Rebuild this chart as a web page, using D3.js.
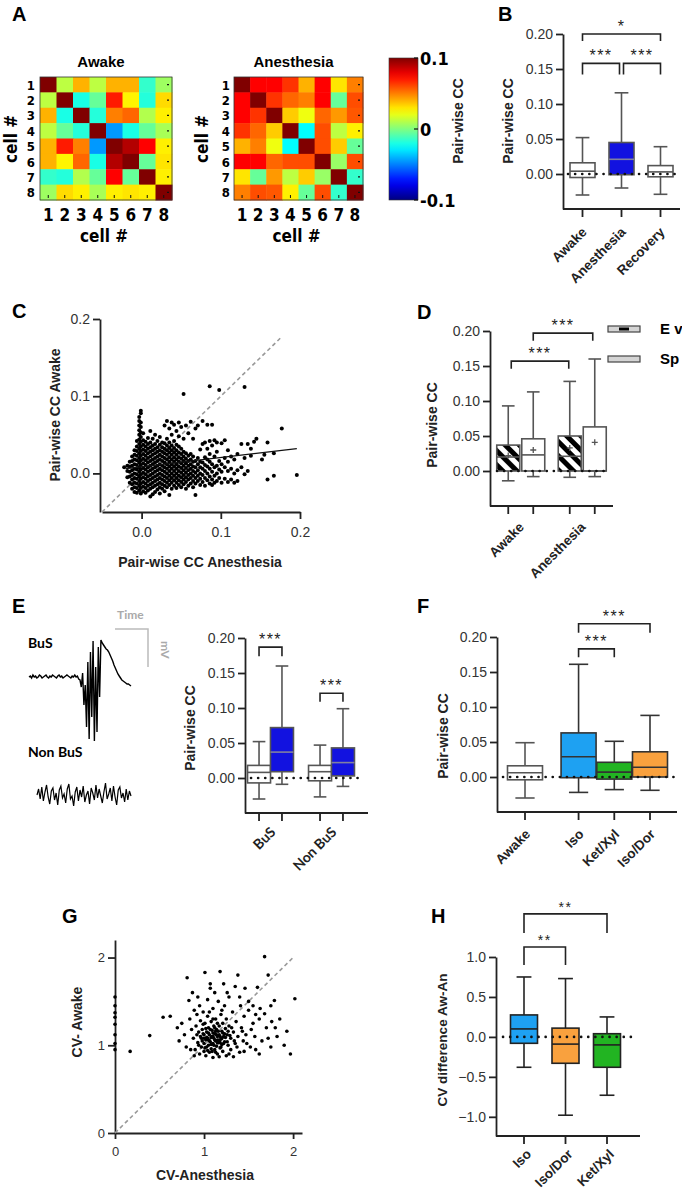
<!DOCTYPE html>
<html>
<head>
<meta charset="utf-8">
<script src="https://cdn.jsdelivr.net/npm/d3@7"></script>
<style>
body { margin: 0; background: #fff; }
text { font-family: "Liberation Sans", Arial, sans-serif; }
</style>
</head>
<body>
<div id="fig"></div>
<script>
// ---------- A: pair-wise CC matrices (8 cells)
var cellIds = [1, 2, 3, 4, 5, 6, 7, 8];
var awakeCC = [
	[0.1, 0.012, 0.04, 0.012, 0.04, 0.04, -0.015, 0.006],
	[0.012, 0.1, -0.02, -0.005, 0.07, 0.027, -0.018, 0.032],
	[0.04, -0.02, 0.1, -0.018, 0.05, 0.055, 0.01, 0.028],
	[0.012, -0.005, -0.018, 0.1, -0.045, -0.02, -0.005, 0.008],
	[0.04, 0.07, 0.05, -0.045, 0.1, 0.09, 0.075, 0.028],
	[0.04, 0.027, 0.055, -0.02, 0.09, 0.1, -0.005, 0.03],
	[-0.015, -0.018, 0.01, -0.005, 0.075, -0.005, 0.1, 0.028],
	[0.006, 0.032, 0.028, 0.008, 0.028, 0.03, 0.028, 0.1]
];
var anesCC = [
	[0.1, 0.075, 0.075, 0.065, 0.04, 0.075, 0.03, 0.05],
	[0.075, 0.1, 0.065, 0.055, 0.05, 0.075, -0.005, 0.06],
	[0.075, 0.065, 0.1, 0.035, 0.022, 0.055, 0.045, 0.058],
	[0.065, 0.055, 0.035, 0.1, -0.025, 0.06, 0.012, 0.028],
	[0.04, 0.05, 0.022, -0.025, 0.1, 0.06, 0.035, -0.005],
	[0.075, 0.075, 0.055, 0.06, 0.06, 0.1, 0.005, 0.06],
	[0.03, -0.005, 0.045, 0.012, 0.035, 0.005, 0.1, -0.015],
	[0.05, 0.06, 0.058, 0.028, -0.005, 0.06, -0.015, 0.1]
];
var cbarTicks = [-0.1, 0, 0.1];
var cbarLabels = ["-0.1", "0", "0.1"];

// ---------- B: box stats [min, q1, median, q3, max]
var bGroups = ["Awake", "Anesthesia", "Recovery"];
var bStats = [
	[-0.03, -0.005, 0.004, 0.016, 0.052],
	[-0.02, -0.001, 0.021, 0.045, 0.116],
	[-0.029, -0.004, 0.003, 0.012, 0.039]
];
var bFill = ["#ffffff", "#1212e0", "#ffffff"];
var ccTicks = [0, 0.05, 0.1, 0.15, 0.2];

// ---------- C: scatter, columns of [x, [y...]]
var cScatter = [
	[-0.022, [0.008]],
	[-0.018, [-0.005, 0.003, 0.01]],
	[-0.015, [-0.012, -0.004, 0.002, 0.009, 0.015]],
	[-0.012, [-0.02, -0.014, -0.008, -0.002, 0.004, 0.01, 0.016, 0.022]],
	[-0.009, [-0.024, -0.018, -0.012, -0.006, 0.0, 0.006, 0.012, 0.018, 0.024, 0.03]],
	[-0.006, [-0.025, -0.019, -0.013, -0.007, -0.001, 0.005, 0.011, 0.017, 0.023, 0.029, 0.035, 0.042]],
	[-0.003, [-0.022, -0.016, -0.01, -0.004, 0.002, 0.008, 0.014, 0.02, 0.026, 0.032, 0.038, 0.044, 0.05, 0.056, 0.062, 0.068, 0.073]],
	[-0.001, [-0.026, -0.019, -0.013, -0.007, -0.001, 0.005, 0.011, 0.017, 0.023, 0.029, 0.035, 0.041, 0.047, 0.053, 0.06, 0.066, 0.078, 0.081]],
	[0.002, [-0.023, -0.017, -0.011, -0.005, 0.001, 0.007, 0.013, 0.019, 0.025, 0.031, 0.037, 0.043, 0.052]],
	[0.005, [-0.025, -0.019, -0.013, -0.007, -0.001, 0.005, 0.011, 0.017, 0.023, 0.029, 0.035, 0.041]],
	[0.008, [-0.022, -0.016, -0.01, -0.004, 0.002, 0.008, 0.014, 0.02, 0.026, 0.032, 0.038, 0.046]],
	[0.011, [-0.03, -0.02, -0.014, -0.008, -0.002, 0.004, 0.01, 0.016, 0.022, 0.028, 0.034, 0.04, 0.055]],
	[0.014, [-0.027, -0.018, -0.012, -0.006, 0.0, 0.006, 0.012, 0.018, 0.024, 0.03, 0.036, 0.045]],
	[0.017, [-0.024, -0.016, -0.01, -0.004, 0.002, 0.008, 0.014, 0.02, 0.026, 0.032, 0.038, 0.05]],
	[0.02, [-0.021, -0.014, -0.008, -0.002, 0.004, 0.01, 0.016, 0.022, 0.028, 0.034, 0.042]],
	[0.023, [-0.026, -0.018, -0.012, -0.006, 0.0, 0.006, 0.012, 0.018, 0.024, 0.03, 0.037, 0.047]],
	[0.026, [-0.02, -0.014, -0.008, -0.002, 0.004, 0.01, 0.016, 0.022, 0.028, 0.034, 0.04]],
	[0.029, [-0.023, -0.016, -0.01, -0.004, 0.002, 0.008, 0.014, 0.02, 0.026, 0.032, 0.039, 0.062]],
	[0.032, [-0.018, -0.012, -0.006, 0.0, 0.006, 0.012, 0.018, 0.024, 0.03, 0.036, 0.045, 0.068]],
	[0.035, [-0.028, -0.015, -0.009, -0.003, 0.003, 0.009, 0.015, 0.021, 0.027, 0.033, 0.04, 0.058]],
	[0.038, [-0.02, -0.012, -0.006, 0.0, 0.006, 0.012, 0.018, 0.024, 0.03, 0.036, 0.05, 0.066]],
	[0.041, [-0.016, -0.009, -0.003, 0.003, 0.009, 0.015, 0.021, 0.027, 0.033, 0.042, 0.063]],
	[0.044, [-0.019, -0.012, -0.006, 0.0, 0.006, 0.012, 0.018, 0.024, 0.03, 0.037, 0.055]],
	[0.047, [-0.015, -0.009, -0.003, 0.003, 0.009, 0.015, 0.021, 0.027, 0.035, 0.048, 0.066]],
	[0.05, [-0.018, -0.011, -0.005, 0.001, 0.007, 0.013, 0.019, 0.025, 0.032, 0.06]],
	[0.053, [-0.014, -0.008, -0.002, 0.004, 0.01, 0.016, 0.022, 0.028, 0.045, 0.103]],
	[0.056, [-0.02, -0.011, -0.005, 0.001, 0.007, 0.013, 0.019, 0.026, 0.062]],
	[0.059, [-0.016, -0.008, -0.002, 0.004, 0.01, 0.016, 0.023, 0.052]],
	[0.062, [-0.013, -0.006, 0.0, 0.006, 0.012, 0.018, 0.025, 0.067]],
	[0.065, [-0.018, -0.01, -0.003, 0.003, 0.009, 0.015, 0.022, 0.045]],
	[0.068, [-0.028, -0.013, -0.006, 0.001, 0.008, 0.016, 0.058]],
	[0.071, [-0.01, -0.003, 0.004, 0.012, 0.02, 0.062]],
	[0.074, [-0.015, -0.007, 0.0, 0.008, 0.015, 0.031]],
	[0.077, [-0.011, -0.002, 0.006, 0.014, 0.038, 0.068]],
	[0.08, [-0.016, -0.006, 0.003, 0.011, 0.021, 0.04]],
	[0.083, [-0.009, 0.0, 0.009, 0.018, 0.032, 0.063]],
	[0.086, [-0.013, -0.004, 0.006, 0.015, 0.025, 0.042, 0.113]],
	[0.089, [-0.015, -0.008, 0.002, 0.012, 0.036, 0.063]],
	[0.092, [-0.012, -0.003, 0.008, 0.022, 0.043]],
	[0.095, [-0.01, 0.0, 0.01, 0.028, 0.04]],
	[0.098, [-0.006, 0.005, 0.016, 0.108]],
	[0.101, [-0.012, 0.002, 0.012, 0.039]],
	[0.105, [-0.007, 0.008, 0.02, 0.043]],
	[0.109, [-0.011, 0.003, 0.015, 0.03]],
	[0.113, [-0.008, 0.006, 0.022]],
	[0.117, [-0.012, 0.0, 0.018]],
	[0.121, [-0.01, 0.004, 0.025]],
	[0.126, [0.008, 0.038]],
	[0.13, [-0.001, 0.02, 0.112]],
	[0.134, [0.003, 0.038]],
	[0.138, [0.023, 0.032]],
	[0.142, [0.041]],
	[0.145, [0.045]],
	[0.152, [0.018]],
	[0.155, [0.024]],
	[0.159, [-0.008, 0.04]],
	[0.167, [-0.003, 0.026]],
	[0.177, [0.058]],
	[0.196, [-0.002]]
];
var cTicks = [0, 0.1, 0.2];
var cFit = [[-0.02, 0.0062], [0.196, 0.032]];
var cUnity = [[-0.05, -0.05], [0.175, 0.175]];

// ---------- D: evoked (hatched) vs spontaneous
var dGroups = ["Awake", "Anesthesia"];
var dSeries = ["Ev", "Sp"];
var dEv = [[-0.014, 0, 0.02, 0.037, 0.093], [-0.009, 0, 0.021, 0.05, 0.128]];
var dSp = [[-0.008, 0, 0.023, 0.046, 0.113], [-0.008, 0, 0, 0.063, 0.16]];
var dEvMean = [0.022, 0.033];
var dSpMean = [0.03, 0.041];

// ---------- E: example traces + box stats
var busTrace = [0, 1, -1, 2, 0, 1, -1, 0, 2, 1, -1, 0, 1, 2, 0, -1, 1, 0, 2, 1, 0, -1, 1, 2, 0, 1, -1, 0, 1, 2, 1, 0, -1, 1, 0, 2, 0, 1, -2,
	-3, -10, 4, -28, -8, -50, 15, -62, 25, -40, 36, -64, 10, -55, 30, -20, 37, 34, 32, 30, 28, 27,
	25, 22, 19, 16, 12, 9, 6, 3, 1, -1, -3, -4, -5, -6, -7, -7, -8, -9];
var nonBusTrace = [0, 6, -4, 8, -6, 3, 10, -2, -9, 4, 7, -5, 2, -10, 5, 9, -3, 1, -8, 6, 11, -4, -1, -11, 3, 8, -6, 5, -2, 9,
	-7, 0, 4, -9, 7, 2, -5, 10, -3, 6, -1, -8, 3, 12, -4, 1, 7, -6, 9, -2, -10, 5, 8, -3, 2, -7, 6, -5, 4, -1];
var eGroups = ["BuS", "Non BuS"];
var eAwake = [[-0.03, -0.007, 0.008, 0.018, 0.052], [-0.027, -0.004, 0.009, 0.018, 0.047]];
var eAnes = [[-0.009, 0.009, 0.037, 0.072, 0.16], [-0.012, 0.003, 0.022, 0.043, 0.099]];

// ---------- F: anesthetics
var fGroups = ["Awake", "Iso", "Ket/Xyl", "Iso/Dor"];
var fStats = [
	[-0.03, -0.004, 0.006, 0.016, 0.049],
	[-0.022, -0.001, 0.029, 0.063, 0.161],
	[-0.018, -0.003, 0.007, 0.021, 0.051],
	[-0.019, 0.0, 0.014, 0.036, 0.088]
];
var fFill = ["#ffffff", "#1ea1f2", "#22b422", "#f9a13e"];

// ---------- G: CV scatter
var gScatter = [
	[0, 1.55], [0, 1.45], [0, 1.37], [0, 1.32], [0, 1.24], [0, 1.12], [0, 1.02], [0, 0.95],
	[0.17, 0.93], [0.39, 1.11], [0.54, 1.32], [0.62, 1.33], [0.7, 1.2], [0.72, 1.05], [0.75, 1.25], [0.78, 1.12],
	[0.8, 0.98], [0.81, 1.77], [0.83, 1.51], [0.87, 1.6], [0.84, 1.3], [0.86, 1.18], [0.88, 1.08], [0.89, 1.4],
	[0.9, 0.95], [0.91, 1.22], [0.92, 1.35], [0.93, 1.03], [0.94, 1.15], [0.95, 0.9], [0.95, 1.45], [0.96, 1.28],
	[0.97, 1.08], [0.97, 0.98], [0.98, 1.18], [0.99, 1.38], [1.0, 1.02], [1.0, 1.12], [1.0, 0.93], [1.01, 1.83],
	[1.01, 1.25], [1.02, 1.06], [1.02, 0.88], [1.03, 1.15], [1.03, 0.98], [1.04, 1.33], [1.04, 1.08], [1.05, 1.2],
	[1.05, 1.0], [1.06, 0.92], [1.06, 1.12], [1.07, 1.7], [1.07, 1.65], [1.07, 1.04], [1.08, 1.27], [1.08, 0.96],
	[1.09, 1.1], [1.09, 1.17], [1.1, 1.02], [1.1, 0.86], [1.1, 1.42], [1.11, 1.08], [1.11, 1.22], [1.12, 0.95],
	[1.12, 1.13], [1.13, 1.05], [1.13, 1.3], [1.14, 0.99], [1.14, 1.18], [1.15, 1.1], [1.15, 0.9], [1.16, 1.5],
	[1.16, 1.03], [1.17, 1.22], [1.17, 1.12], [1.18, 1.84], [1.18, 0.97], [1.19, 1.07], [1.19, 1.35], [1.2, 1.16],
	[1.2, 1.01], [1.21, 1.25], [1.21, 0.93], [1.22, 1.1], [1.23, 1.45], [1.23, 1.04], [1.24, 1.19], [1.25, 0.88],
	[1.25, 1.3], [1.26, 1.12], [1.27, 1.0], [1.28, 1.55], [1.28, 1.22], [1.3, 1.08], [1.3, 0.95], [1.32, 1.38],
	[1.33, 1.15], [1.35, 1.67], [1.35, 1.02], [1.36, 1.27], [1.38, 1.1], [1.4, 0.92], [1.41, 1.45], [1.42, 1.2],
	[1.44, 1.05], [1.45, 1.33], [1.47, 1.12], [1.5, 1.4], [1.52, 0.98], [1.55, 1.25], [1.57, 1.1], [1.6, 1.66],
	[1.62, 1.3], [1.65, 1.05], [1.68, 2.01], [1.7, 1.2], [1.72, 1.8], [1.75, 0.98], [1.76, 1.27], [1.79, 1.51],
	[1.82, 1.1], [1.93, 1.16], [1.97, 0.9], [2.02, 1.53],
	[0.98, 1.05], [0.99, 1.13], [1.01, 0.97], [1.02, 1.19], [1.03, 1.09], [1.04, 0.94], [1.05, 1.14], [1.06, 1.05],
	[1.07, 1.18], [1.08, 1.09], [1.08, 1.01], [1.09, 0.93], [1.1, 1.14], [1.11, 1.0], [1.12, 1.06], [1.12, 1.2],
	[1.13, 0.92], [1.14, 1.12], [1.15, 1.03], [1.16, 1.16], [1.17, 1.06], [1.18, 1.1], [1.19, 0.98], [1.2, 1.08],
	[1.21, 1.14], [1.22, 1.02], [1.24, 1.09], [1.26, 1.04], [1.27, 1.16], [1.29, 1.11], [1.0, 1.08], [1.05, 1.06],
	[1.1, 1.1], [1.15, 1.06], [1.13, 1.16], [0.96, 1.1], [1.18, 1.03], [1.23, 1.13], [0.92, 1.12], [0.94, 1.0],
	[1.31, 1.2], [1.34, 1.05], [1.37, 0.98], [1.43, 1.16], [1.48, 1.02], [1.53, 1.18], [1.58, 0.95], [1.1, 1.3],
	[1.06, 1.38], [1.15, 1.25], [0.99, 1.24], [1.2, 1.4], [1.26, 1.6], [1.12, 1.6], [0.93, 1.55], [1.04, 1.52],
	[1.22, 1.7], [1.4, 1.55], [1.46, 1.65], [1.38, 1.8], [1.5, 1.5], [1.55, 1.45], [1.63, 1.42], [1.58, 1.35],
	[1.68, 1.36], [1.75, 1.45], [1.85, 1.3], [1.9, 1.0], [0.85, 0.95], [0.89, 0.88], [1.17, 0.87], [1.28, 0.9],
	[1.33, 0.87], [1.45, 0.93], [1.62, 0.9], [1.72, 1.08], [1.8, 1.2]
];
var gTicks = [0, 1, 2];
var gUnity = [[0, 0], [2, 2]];

// ---------- H: CV difference
var hGroups = ["Iso", "Iso/Dor", "Ket/Xyl"];
var hStats = [
	[-0.38, -0.08, 0.1, 0.275, 0.75],
	[-0.98, -0.33, -0.09, 0.11, 0.73],
	[-0.73, -0.38, -0.1, 0.04, 0.25]
];
var hFill = ["#1ea1f2", "#f9a13e", "#22b422"];
var hTicks = [-1, -0.5, 0, 0.5, 1];

drawfigure();

function drawfigure() {
	var svg = d3.select("#fig").append("svg")
		.attr("width", 682)
		.attr("height", 1191);

	var narrow = '"Liberation Sans Narrow", "DejaVu Sans Condensed", "Arial Narrow", sans-serif';

	// jet colour map
	function jet(v) {
		var t = (v + 0.1) / 0.2;
		var c = function (x) { return Math.max(0, Math.min(1, x)); };
		var r = c(1.5 - Math.abs(4 * t - 3)), g = c(1.5 - Math.abs(4 * t - 2)), b = c(1.5 - Math.abs(4 * t - 1));
		return d3.rgb(r * 255, g * 255, b * 255).toString();
	}

	function letter(t, x, y) {
		svg.append("text").attr("x", x).attr("y", y)
			.style("font-size", "20px").style("font-weight", "bold")
			.text(t);
	}

	function yLabel(txt, x, yc, size) {
		svg.append("text")
			.attr("transform", "translate(" + x + "," + yc + ") rotate(-90)")
			.attr("text-anchor", "middle")
			.style("font-size", (size || 14) + "px").style("font-weight", "bold").style("fill", "#222")
			.text(txt);
	}

	function styleAxis(g, fs) {
		g.select(".domain").attr("stroke", "#222").attr("stroke-width", 1.8);
		g.selectAll(".tick line").attr("stroke", "#222").attr("stroke-width", 1.8);
		g.selectAll(".tick text").style("font-size", (fs || 14) + "px").attr("fill", "#333")
			.style("font-family", '"Liberation Sans", Arial, sans-serif');
	}

	function leftAxis(x0, y, ticks, fmt, fs) {
		var g = svg.append("g").attr("transform", "translate(" + x0 + ",0)")
			.call(d3.axisLeft(y).tickValues(ticks).tickFormat(fmt).tickSize(7).tickSizeOuter(0).tickPadding(3));
		styleAxis(g, fs);
		return g;
	}

	function bottomLine(x0, x1, y0, xs) {
		svg.append("line").attr("x1", x0).attr("x2", x1).attr("y1", y0).attr("y2", y0)
			.attr("stroke", "#222").attr("stroke-width", 1.8);
		xs.forEach(function (x) {
			svg.append("line").attr("x1", x).attr("x2", x).attr("y1", y0).attr("y2", y0 + 8)
				.attr("stroke", "#222").attr("stroke-width", 1.8);
		});
	}

	function rotLabels(items, y0, size, family, weight) {
		items.forEach(function (d) {
			svg.append("text")
				.attr("transform", "translate(" + d.x + "," + y0 + ") rotate(-45)")
				.attr("text-anchor", "end")
				.style("font-size", size + "px").style("font-weight", weight || "bold")
				.style("font-family", family || '"Liberation Sans", Arial, sans-serif')
				.style("fill", "#222")
				.text(d.t);
		});
	}

	function box(y, cx, w, s, fill, stroke, med) {
		var g = svg.append("g").attr("stroke", stroke).attr("stroke-width", 1.6);
		var cap = w * 0.55;
		g.append("line").attr("x1", cx).attr("x2", cx).attr("y1", y(s[4])).attr("y2", y(s[3]));
		g.append("line").attr("x1", cx).attr("x2", cx).attr("y1", y(s[1])).attr("y2", y(s[0]));
		g.append("line").attr("x1", cx - cap / 2).attr("x2", cx + cap / 2).attr("y1", y(s[4])).attr("y2", y(s[4]));
		g.append("line").attr("x1", cx - cap / 2).attr("x2", cx + cap / 2).attr("y1", y(s[0])).attr("y2", y(s[0]));
		g.append("rect").attr("x", cx - w / 2).attr("y", y(s[3])).attr("width", w)
			.attr("height", y(s[1]) - y(s[3])).attr("fill", fill);
		g.append("line").attr("x1", cx - w / 2).attr("x2", cx + w / 2).attr("y1", y(s[2])).attr("y2", y(s[2]))
			.attr("stroke", med || stroke);
		return g;
	}

	function zeroDots(x0, x1, yy) {
		svg.append("line").attr("x1", x0).attr("x2", x1).attr("y1", yy).attr("y2", yy)
			.attr("stroke", "#111").attr("stroke-width", 2.6)
			.attr("stroke-linecap", "round").attr("stroke-dasharray", "0.1,7");
	}

	function bracket(x1, x2, yTop, yLeg, label, fs) {
		svg.append("path").attr("d", "M" + x1 + "," + yLeg + "V" + yTop + "H" + x2 + "V" + yLeg)
			.attr("fill", "none").attr("stroke", "#222").attr("stroke-width", 1.6);
		svg.append("text").attr("x", (x1 + x2) / 2).attr("y", yTop - 2)
			.attr("text-anchor", "middle").style("font-size", (fs || 16) + "px")
			.style("letter-spacing", "1.5px").style("fill", "#222")
			.text(label);
	}

	// ================= A
	letter("A", 12, 21);
	function heatmap(mat, x0, x1, title, rowLabelX, ylabX) {
		var xb = d3.scaleBand().domain(cellIds).range([x0, x1]);
		var yb = d3.scaleBand().domain(cellIds).range([77, 200]);
		var g = svg.append("g");
		mat.forEach(function (row, i) {
			g.selectAll(null).data(row).join("rect")
				.attr("x", function (d, j) { return xb(cellIds[j]); })
				.attr("y", yb(cellIds[i]))
				.attr("width", xb.bandwidth() + 0.5)
				.attr("height", yb.bandwidth() + 0.5)
				.attr("fill", function (d) { return jet(d); });
		});
		g.append("rect").attr("x", x0).attr("y", 77).attr("width", x1 - x0).attr("height", 123)
			.attr("fill", "none").attr("stroke", "#333").attr("stroke-width", 0.8);
		// small tick marks of the matlab axes
		cellIds.forEach(function (c) {
			g.append("line").attr("x1", x1 - 5).attr("x2", x1 - 3)
				.attr("y1", yb(c) + yb.bandwidth() / 2).attr("y2", yb(c) + yb.bandwidth() / 2)
				.attr("stroke", "#111").attr("stroke-width", 1.2);
			g.append("line").attr("x1", xb(c) + xb.bandwidth() / 2).attr("x2", xb(c) + xb.bandwidth() / 2)
				.attr("y1", 198).attr("y2", 195).attr("stroke", "#111").attr("stroke-width", 1);
		});
		svg.append("text").attr("x", (x0 + x1) / 2 - 5).attr("y", 67).attr("text-anchor", "middle")
			.style("font-size", "15px").style("font-weight", "bold").text(title);
		svg.selectAll(null).data(cellIds).join("text")
			.attr("x", rowLabelX).attr("y", function (d) { return yb(d) + yb.bandwidth() / 2 + 5; })
			.attr("text-anchor", "end")
			.style("font-family", narrow).style("font-size", "13px").style("font-weight", "bold")
			.text(function (d) { return d; });
		svg.selectAll(null).data(cellIds).join("text")
			.attr("x", function (d) { return xb(d) + xb.bandwidth() / 2; }).attr("y", 221)
			.attr("text-anchor", "middle")
			.style("font-family", narrow).style("font-size", "17px").style("font-weight", "bold")
			.text(function (d) { return d; });
		svg.append("text").attr("x", (x0 + x1) / 2 - 2).attr("y", 242).attr("text-anchor", "middle")
			.style("font-family", narrow).style("font-size", "17px").style("font-weight", "bold").text("cell #");
		svg.append("text").attr("transform", "translate(" + ylabX + ",139) rotate(-90)").attr("text-anchor", "middle")
			.style("font-family", narrow).style("font-size", "17px").style("font-weight", "bold").text("cell #");
	}
	heatmap(awakeCC, 40, 172, "Awake", 35, 17);
	heatmap(anesCC, 234, 363, "Anesthesia", 230, 208);

	// colour bar
	var cbY = d3.scaleLinear().domain([-0.1, 0.1]).range([200, 58]);
	var grad = svg.append("defs").append("linearGradient").attr("id", "jetgrad")
		.attr("x1", 0).attr("x2", 0).attr("y1", 1).attr("y2", 0);
	d3.range(0, 1.0001, 0.05).forEach(function (t) {
		grad.append("stop").attr("offset", t).attr("stop-color", jet(-0.1 + 0.2 * t));
	});
	svg.append("rect").attr("x", 389).attr("y", cbY(0.1)).attr("width", 29).attr("height", cbY(-0.1) - cbY(0.1))
		.attr("fill", "url(#jetgrad)").attr("stroke", "#333").attr("stroke-width", 0.6);
	cbarTicks.forEach(function (v, i) {
		svg.append("line").attr("x1", 414).attr("x2", 418).attr("y1", cbY(v)).attr("y2", cbY(v))
			.attr("stroke", "#111").attr("stroke-width", 1.2);
		svg.append("text").attr("x", 420).attr("y", cbY(v) + 6.5)
			.style("font-family", narrow).style("font-size", "18px").style("font-weight", "bold")
			.text(cbarLabels[i]);
	});
	yLabel("Pair-wise CC", 463, 121);

	// ================= B
	letter("B", 498, 21);
	var yB = d3.scaleLinear().domain([-0.05, 0.2]).range([209, 34]);
	var xB = d3.scalePoint().domain(bGroups).range([563, 680]).padding(0.5);
	leftAxis(563, yB, ccTicks, d3.format(".2f"));
	bottomLine(563, 680, 209, bGroups.map(function (d) { return xB(d); }));
	bGroups.forEach(function (d, i) {
		box(yB, xB(d), 25, bStats[i], bFill[i], "#555", i === 1 ? "#8080a0" : "#555");
	});
	zeroDots(568, 680, yB(0));
	bracket(xB("Awake"), xB("Anesthesia") - 2, yB(0.158), yB(0.142), "***");
	bracket(xB("Anesthesia") + 2, xB("Recovery"), yB(0.158), yB(0.142), "***");
	bracket(xB("Awake"), xB("Recovery"), yB(0.2), yB(0.19), "*");
	yLabel("Pair-wise CC", 513, 121);
	rotLabels(bGroups.map(function (d) { return { x: xB(d) + 5, t: d }; }), 233, 13.5);

	// ================= C
	letter("C", 12, 318);
	var xC = d3.scaleLinear().domain([-0.05, 0.2]).range([102, 300]);
	var yC = d3.scaleLinear().domain([-0.05, 0.2]).range([512, 319]);
	var gcx = svg.append("g").attr("transform", "translate(0,512)")
		.call(d3.axisBottom(xC).tickValues(cTicks).tickFormat(d3.format(".1f")).tickSize(7).tickSizeOuter(0).tickPadding(8));
	styleAxis(gcx);
	leftAxis(100, yC, cTicks, d3.format(".1f"));
	var line = d3.line().x(function (d) { return xC(d[0]); }).y(function (d) { return yC(d[1]); });
	svg.append("path").attr("d", line(cUnity)).attr("stroke", "#999").attr("stroke-width", 1.6)
		.attr("stroke-dasharray", "4,3").attr("fill", "none");
	var cPts = cScatter.flatMap(function (c) { return c[1].map(function (y) { return [c[0], y]; }); });
	svg.append("g").selectAll("circle").data(cPts).join("circle")
		.attr("cx", function (d) { return xC(d[0]); })
		.attr("cy", function (d) { return yC(d[1]); })
		.attr("r", 2.0).attr("fill", "#000");
	svg.append("path").attr("d", line(cFit)).attr("stroke", "#111").attr("stroke-width", 1.3).attr("fill", "none");
	yLabel("Pair-wise CC Awake", 60, 415);
	svg.append("text").attr("x", 200).attr("y", 567).attr("text-anchor", "middle")
		.style("font-size", "14px").style("font-weight", "bold").style("fill", "#222")
		.text("Pair-wise CC Anesthesia");

	// ================= D
	letter("D", 417, 319);
	var yD = d3.scaleLinear().domain([-0.05, 0.2]).range([506, 331]);
	var xD = d3.scaleBand().domain(dGroups).range([490, 613]);
	var xDs = d3.scaleBand().domain(dSeries).range([0, xD.bandwidth()]).paddingOuter(0.23);
	var pat = svg.select("defs").append("pattern").attr("id", "hatch")
		.attr("patternUnits", "userSpaceOnUse").attr("width", 10).attr("height", 10)
		.attr("patternTransform", "rotate(-45)");
	pat.append("rect").attr("width", 10).attr("height", 10).attr("fill", "#fff");
	pat.append("rect").attr("width", 5).attr("height", 10).attr("fill", "#000");
	leftAxis(490, yD, ccTicks, d3.format(".2f"));
	var dPos = [];
	dGroups.forEach(function (gname, i) {
		var xe = xD(gname) + xDs("Ev") + xDs.bandwidth() / 2;
		var xs = xD(gname) + xDs("Sp") + xDs.bandwidth() / 2;
		dPos.push(xe, xs);
		box(yD, xe, 23, dEv[i], "url(#hatch)", "#555", "#555");
		box(yD, xs, 23, dSp[i], "#fff", "#555", "#555");
		[[xe, dEvMean[i]], [xs, dSpMean[i]]].forEach(function (m) {
			svg.append("path").attr("d", "M" + (m[0] - 3) + "," + yD(m[1]) + "h6M" + m[0] + "," + (yD(m[1]) - 3) + "v6")
				.attr("stroke", "#555").attr("stroke-width", 1.3);
		});
	});
	bottomLine(490, 613, 506, dPos);
	zeroDots(497, 610, yD(0));
	bracket(dPos[0] + 3, dPos[2] - 1, yD(0.157), yD(0.146), "***");
	bracket(dPos[1], dPos[3] - 2, yD(0.197), yD(0.186), "***");
	yLabel("Pair-wise CC", 437, 425);
	rotLabels(dGroups.map(function (d) { return { x: xD(d) + xD.bandwidth() / 2 + 4, t: d }; }), 528, 13.5);
	// legend
	[["Ev", 329, "E v"], ["Sp", 359, "Sp"]].forEach(function (l) {
		svg.append("rect").attr("x", 608).attr("y", l[1] - 3).attr("width", 32).attr("height", 6)
			.attr("fill", "#d4d4d4").attr("stroke", "#444").attr("stroke-width", 1.2);
		if (l[0] === "Ev") {
			svg.append("line").attr("x1", 619).attr("x2", 629).attr("y1", l[1]).attr("y2", l[1])
				.attr("stroke", "#000").attr("stroke-width", 3);
		}
		svg.append("text").attr("x", 660).attr("y", l[1] + 5).style("font-size", "15px").style("font-weight", "bold")
			.text(l[2]);
	});

	// ================= E
	letter("E", 12, 613);
	svg.append("text").attr("x", 117).attr("y", 619).style("font-family", "Lato, 'Open Sans', sans-serif")
		.style("font-size", "12px").style("font-weight", "bold").style("fill", "#aaa").text("Time");
	svg.append("path").attr("d", "M115,629H148V667").attr("fill", "none").attr("stroke", "#bbb").attr("stroke-width", 1.5);
	svg.append("text").attr("transform", "translate(161,641) rotate(90)")
		.style("font-family", "Lato, 'Open Sans', sans-serif").style("font-size", "12px").style("font-weight", "bold")
		.style("fill", "#aaa").text("mV");
	svg.append("text").attr("x", 28).attr("y", 648).style("font-family", "Lato, 'Open Sans', sans-serif")
		.style("font-size", "14px").style("font-weight", "bold").text("BuS");
	svg.append("text").attr("x", 28).attr("y", 757).style("font-family", "Lato, 'Open Sans', sans-serif")
		.style("font-size", "14px").style("font-weight", "bold").text("Non BuS");
	var tx1 = d3.scaleLinear().domain([0, busTrace.length - 1]).range([29, 131]);
	var ty1 = d3.scaleLinear().domain([-65, 40]).range([742, 637]);
	svg.append("path").attr("d", d3.line().x(function (d, i) { return tx1(i); }).y(function (d) { return ty1(d); })(busTrace))
		.attr("fill", "none").attr("stroke", "#000").attr("stroke-width", 1.4);
	var tx2 = d3.scaleLinear().domain([0, nonBusTrace.length - 1]).range([37, 131]);
	var ty2 = d3.scaleLinear().domain([-15, 15]).range([810, 780]);
	svg.append("path").attr("d", d3.line().x(function (d, i) { return tx2(i); }).y(function (d) { return ty2(d); })(nonBusTrace))
		.attr("fill", "none").attr("stroke", "#000").attr("stroke-width", 1.2);

	var yE = d3.scaleLinear().domain([-0.05, 0.2]).range([813, 638]);
	var xE = d3.scaleBand().domain(eGroups).range([240, 362]);
	var xEs = d3.scaleBand().domain(["aw", "an"]).range([0, xE.bandwidth()]).paddingOuter(0.33);
	leftAxis(245, yE, ccTicks, d3.format(".2f"));
	var ePos = [];
	eGroups.forEach(function (gname, i) {
		var xa = xE(gname) + xEs("aw") + xEs.bandwidth() / 2;
		var xn = xE(gname) + xEs("an") + xEs.bandwidth() / 2;
		ePos.push(xa, xn);
		box(yE, xa, 23, eAwake[i], "#fff", "#555", "#555");
		box(yE, xn, 23, eAnes[i], "#1212e0", "#555", "#8080a0");
	});
	bottomLine(245, 368, 813, ePos);
	zeroDots(251, 362, yE(0));
	bracket(ePos[0], ePos[1], yE(0.187), yE(0.174), "***");
	bracket(ePos[2], ePos[3], yE(0.121), yE(0.109), "***");
	yLabel("Pair-wise CC", 195, 728);
	rotLabels(eGroups.map(function (d) { return { x: xE(d) + xE.bandwidth() / 2 + 6, t: d }; }), 833, 14,
		"Lato, 'Open Sans', sans-serif");

	// ================= F
	letter("F", 417, 613);
	var yF = d3.scaleLinear().domain([-0.05, 0.2]).range([812, 637]);
	var fSlot = [0, 1.5, 2.5, 3.5];
	var xF = d3.scaleLinear().domain([0, 3.5]).range([525, 650]);
	leftAxis(497, yF, ccTicks, d3.format(".2f"));
	var fPos = fGroups.map(function (d, i) { return xF(fSlot[i]); });
	bottomLine(497, 677, 812, fPos);
	fGroups.forEach(function (d, i) {
		box(yF, fPos[i], 35, fStats[i], fFill[i], i === 0 ? "#555" : "#333", i === 0 ? "#555" : "#333");
	});
	zeroDots(503, 677, yF(0));
	bracket(fPos[1], fPos[2], yF(0.183), yF(0.171), "***");
	bracket(fPos[1], fPos[3], yF(0.219), yF(0.206), "***");
	yLabel("Pair-wise CC", 448, 736);
	rotLabels(fGroups.map(function (d, i) { return { x: fPos[i] + 6, t: d }; }), 835, 13.5);

	// ================= G
	letter("G", 62, 923);
	var xG = d3.scaleLinear().domain([0, 2.1]).range([115, 302]);
	var yG = d3.scaleLinear().domain([0, 2.2]).range([1133, 940]);
	var ggx = svg.append("g").attr("transform", "translate(0,1133)")
		.call(d3.axisBottom(xG).tickValues(gTicks).tickFormat(d3.format("d")).tickSize(6).tickSizeOuter(0).tickPadding(8));
	styleAxis(ggx, 13);
	leftAxis(115, yG, gTicks, d3.format("d"), 13);
	var lineG = d3.line().x(function (d) { return xG(d[0]); }).y(function (d) { return yG(d[1]); });
	svg.append("path").attr("d", lineG(gUnity)).attr("stroke", "#999").attr("stroke-width", 1.6)
		.attr("stroke-dasharray", "4,3").attr("fill", "none");
	svg.append("g").selectAll("circle").data(gScatter).join("circle")
		.attr("cx", function (d) { return xG(d[0]); })
		.attr("cy", function (d) { return yG(d[1]); })
		.attr("r", 1.8).attr("fill", "#000");
	yLabel("CV- Awake", 82, 1022);
	svg.append("text").attr("x", 205).attr("y", 1180).attr("text-anchor", "middle")
		.style("font-size", "14px").style("font-weight", "bold").style("fill", "#222").text("CV-Anesthesia");

	// ================= H
	letter("H", 431, 923);
	var yH = d3.scaleLinear().domain([-1.24, 1.0]).range([1136, 957]);
	var xH = d3.scalePoint().domain(hGroups).range([524, 607]);
	leftAxis(496, yH, hTicks, d3.format(".1f"));
	bottomLine(496, 640, 1136, hGroups.map(function (d) { return xH(d); }));
	hGroups.forEach(function (d, i) {
		box(yH, xH(d), 27, hStats[i], hFill[i], "#222", "#222");
	});
	zeroDots(503, 636, yH(0));
	bracket(xH("Iso"), xH("Iso/Dor"), yH(1.125), yH(0.9), "**", 14);
	bracket(xH("Iso"), xH("Ket/Xyl"), yH(1.54), yH(1.3), "**", 14);
	yLabel("CV difference Aw-An", 447, 1040, 13.5);
	rotLabels(hGroups.map(function (d) { return { x: xH(d) + 8, t: d }; }), 1155, 13.5);
}
</script>
</body>
</html>
